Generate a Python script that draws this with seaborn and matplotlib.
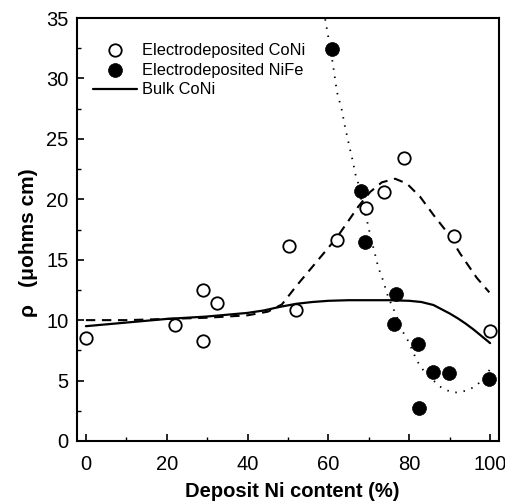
import matplotlib
matplotlib.use("Agg")
import matplotlib.pyplot as plt
import seaborn as sns
import pandas as pd

# ---- data ----
coni_x = [0, 22, 29, 29, 32.5, 50.2, 52, 62, 69.3, 73.8, 78.7, 91.1, 100]
coni_y = [8.5, 9.6, 12.5, 8.3, 11.4, 16.1, 10.8, 16.6, 19.3, 20.6, 23.4, 17.0, 9.1]

nife_x = [60.9, 68.0, 69.1, 76.7, 76.2, 82.2, 85.9, 89.9, 82.4, 99.8]
nife_y = [32.4, 20.7, 16.5, 12.2, 9.7, 8.0, 5.7, 5.6, 2.7, 5.1]

bulk_x = [0, 10, 20, 30, 40, 44, 48, 52, 56, 60, 65, 70, 75, 80, 83, 86, 88, 90, 92, 94, 96, 98, 100]
bulk_y = [9.5, 9.8, 10.1, 10.3, 10.6, 10.8, 11.1, 11.35, 11.5, 11.6, 11.65, 11.65, 11.65, 11.6,
          11.5, 11.25, 10.9, 10.55, 10.15, 9.7, 9.2, 8.65, 8.1]

coni_fit_x = [0, 10, 20, 30, 40, 45, 48.5, 52, 55, 58.5, 62, 64.5, 67.4, 70.3, 73.2, 76.5,
              79.4, 82.7, 86, 89.3, 92.6, 96.7, 99.8]
coni_fit_y = [10.0, 10.0, 10.1, 10.2, 10.4, 10.7, 11.3, 12.8, 14.0, 15.4, 16.8, 18.0, 19.4,
              20.6, 21.4, 21.7, 21.3, 20.2, 18.7, 17.3, 15.5, 13.5, 12.3]

nife_fit_x = [59.2, 60.3, 61.1, 62.1, 63.3, 64.1, 65.3, 66.0, 66.8, 67.8, 68.2, 69.5, 70.5,
              71.5, 72.3, 73.5, 74.8, 76.9, 78.1, 79.4, 80.9, 81.8, 83.1, 86.0, 87.6, 89.3,
              90.9, 92.7, 94.3, 96.3, 98.2, 99.5, 100.7]
nife_fit_y = [34.9, 32.8, 31.2, 28.9, 27.4, 26.0, 24.2, 23.2, 21.9, 20.9, 19.7, 18.3, 16.8,
              15.5, 14.4, 13.3, 11.9, 10.3, 9.2, 8.5, 7.4, 6.7, 6.0, 5.0, 4.5, 4.2,
              4.0, 4.05, 4.2, 4.5, 5.1, 5.7, 6.3]

x_ticks = [0, 20, 40, 60, 80, 100]
y_ticks = [0, 5, 10, 15, 20, 25, 30, 35]

sns.set_style("ticks")
plt.rcParams['font.family'] = ['Liberation Sans', 'DejaVu Sans']
plt.rcParams['text.color'] = 'black'
plt.rcParams['xtick.color'] = 'black'
plt.rcParams['ytick.color'] = 'black'
plt.rcParams['axes.labelcolor'] = 'black'

fig = plt.figure(figsize=(5.06, 5.03), dpi=100)
ax = fig.add_axes([77/506, 62/503, 422/506, 423/503])

sns.lineplot(x=coni_fit_x, y=coni_fit_y, ax=ax, color='black', lw=1.5,
             linestyle=(0, (4.5, 3.2)), sort=False, legend=False)
sns.lineplot(x=nife_fit_x, y=nife_fit_y, ax=ax, color='black', lw=1.3,
             linestyle=(0, (0.8, 3.8)), sort=False, legend=False)
sns.lineplot(x=bulk_x, y=bulk_y, ax=ax, color='black', lw=1.6, sort=False,
             label='Bulk CoNi')
sns.scatterplot(x=coni_x, y=coni_y, ax=ax, marker='o', s=80, facecolor='white',
                edgecolor='black', linewidth=1.3, label='Electrodeposited CoNi', zorder=5)
sns.scatterplot(x=nife_x, y=nife_y, ax=ax, marker='o', s=100, color='black',
                edgecolor='black', linewidth=0.5, label='Electrodeposited NiFe', zorder=6)

ax.set_xlim(-2.2, 102.2)
ax.set_ylim(0, 35)
ax.set_xticks(x_ticks)
ax.set_yticks(y_ticks)
ax.set_xticks([10, 30, 50, 70, 90], minor=True)
ax.set_yticks([2.5, 7.5, 12.5, 17.5, 22.5, 27.5, 32.5], minor=True)
ax.tick_params(which='major', direction='in', length=5, width=1.2, labelsize=14.5, pad=6,
               color='black', labelcolor='black')
ax.tick_params(axis='x', which='major', pad=10)
ax.tick_params(which='minor', direction='in', length=3, width=1.0, color='black')
for s in ax.spines.values():
    s.set_linewidth(1.5)
    s.set_color('black')

ax.set_xlabel('Deposit Ni content (%)', fontsize=14.5, fontweight='bold')
ax.set_ylabel('ρ   (μohms cm)', fontsize=15, fontweight='bold')
ax.xaxis.set_label_coords(0.51, -0.097)
ax.yaxis.set_label_coords(-0.092, 0.47)

h, l = ax.get_legend_handles_labels()
order = [l.index('Electrodeposited CoNi'), l.index('Electrodeposited NiFe'), l.index('Bulk CoNi')]
ax.legend([h[i] for i in order], [l[i] for i in order], loc='upper left',
          bbox_to_anchor=(0.015, 0.965), frameon=False, fontsize=11.8,
          handlelength=2.7, handletextpad=0.3, labelspacing=0.3, borderaxespad=0.2)

fig.savefig('out.png', dpi=100)
